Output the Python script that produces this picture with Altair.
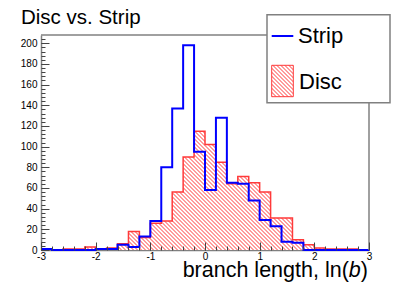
import altair as alt
import pandas as pd

# ---- data ----
bin_left = [-3.0, -2.8, -2.6, -2.4, -2.2, -2.0, -1.8, -1.6, -1.4, -1.2,
            -1.0, -0.8, -0.6, -0.4, -0.2, 0.0, 0.2, 0.4, 0.6, 0.8,
            1.0, 1.2, 1.4, 1.6, 1.8, 2.0, 2.2, 2.4, 2.6, 2.8]
x_max = 3.0
strip_counts = [1, 0, 0, 0, 0, 1, 1, 5, 3, 13,
                28, 80, 137, 198, 95, 58, 128, 65, 64, 48,
                29, 23, 8, 7, 0, 0, 0, 0, 0, 0]
disc_counts = [1, 0, 1, 1, 3, 1, 2, 6, 18, 12,
               26, 28, 56, 90, 115, 102, 85, 64, 71, 65,
               56, 31, 31, 10, 5, 2, 1, 1, 1, 0]
x_major = [-3, -2, -1, 0, 1, 2, 3]
x_minor = [-3.0, -2.8, -2.6, -2.4, -2.2, -2.0, -1.8, -1.6, -1.4, -1.2,
           -1.0, -0.8, -0.6, -0.4, -0.2, 0.0, 0.2, 0.4, 0.6, 0.8,
           1.0, 1.2, 1.4, 1.6, 1.8, 2.0, 2.2, 2.4, 2.6, 2.8, 3.0]
y_major = [0, 20, 40, 60, 80, 100, 120, 140, 160, 180, 200]
y_minor = [0, 4, 8, 12, 16, 20, 24, 28, 32, 36, 40, 44, 48, 52, 56, 60, 64, 68,
           72, 76, 80, 84, 88, 92, 96, 100, 104, 108, 112, 116, 120, 124, 128,
           132, 136, 140, 144, 148, 152, 156, 160, 164, 168, 172, 176, 180, 184,
           188, 192, 196, 200, 204]
y_top = 208

# ---- layout ----
W, H = 328, 215
FONT = "Liberation Sans"
FRAME = "#808080"
RED = "#ff3a3a"
HATCH = "#ff9c9c"

df = pd.DataFrame({
    "edge": bin_left + [x_max],
    "strip": strip_counts + [strip_counts[-1]],
    "disc": disc_counts + [disc_counts[-1]],
})
one = pd.DataFrame({"k": [0]})


def hatch(box_w, box_h, spacing=4.0, frac=0.45, color=HATCH, bg="#ffffff"):
    r = box_h / box_w
    n = max(1, round((1 + r * r) * box_w / spacing))
    stops = []
    for k in range(n):
        a = round(k / n, 6)
        b = round((k + frac) / n, 6)
        c = round((k + 1) / n, 6)
        stops += [{"offset": a, "color": color}, {"offset": b, "color": color},
                  {"offset": b, "color": bg}, {"offset": c, "color": bg}]
    return {"gradient": "linear", "x1": 0, "y1": 1, "x2": 1, "y2": round(1 - r, 5),
            "stops": stops}


xs = alt.Scale(domain=[bin_left[0], x_max], nice=False, zero=False)
ys = alt.Scale(domain=[0, y_top], nice=False, zero=True)

ax_bottom = alt.Axis(values=x_major, labelExpr="datum.value + ''", ticks=False,
                     tickSize=0, labelFlush=False, domainColor=FRAME, domainWidth=1.5,
                     grid=False, labelFont=FONT, labelFontSize=10, labelColor="#000",
                     labelPadding=1, title=None)
ax_left = alt.Axis(values=y_major, ticks=False, tickSize=0, labelFlush=False,
                   domainColor=FRAME, domainWidth=1.5, grid=False, labelFont=FONT,
                   labelFontSize=10, labelColor="#000", labelPadding=4, title=None)
ax_top_major = alt.Axis(orient="top", offset=-H, values=x_major, tickSize=8,
                        tickColor="#444", tickWidth=1, labels=False, domain=False,
                        grid=False, title=None, zindex=2)
ax_right_major = alt.Axis(orient="right", offset=-W, values=y_major, tickSize=8,
                          tickColor="#444", tickWidth=1, labels=False, domain=False,
                          grid=False, title=None, zindex=2)
ax_top_minor = alt.Axis(orient="top", offset=-H, values=x_minor, tickSize=4,
                        tickColor="#444", tickWidth=1, labels=False, domain=False,
                        grid=False, title=None, zindex=2)
ax_right_minor = alt.Axis(orient="right", offset=-W, values=y_minor, tickSize=4,
                          tickColor="#444", tickWidth=1, labels=False, domain=False,
                          grid=False, title=None, zindex=2)

area_h = max(disc_counts) / y_top * H
disc_fill = alt.Chart(df).mark_area(interpolate="step-after", fill=hatch(W, area_h),
                                    opacity=1).encode(
    x=alt.X("edge:Q", scale=xs, axis=ax_bottom),
    y=alt.Y("disc:Q", scale=ys, axis=ax_left),
)
disc_line = alt.Chart(df).mark_line(interpolate="step-after", color=RED,
                                    strokeWidth=1.5).encode(
    x=alt.X("edge:Q", scale=xs, axis=ax_top_major),
    y=alt.Y("disc:Q", scale=ys, axis=ax_right_major),
)
strip_line = alt.Chart(df).mark_line(interpolate="step-after", color="#0000ff",
                                     strokeWidth=2).encode(
    x=alt.X("edge:Q", scale=xs, axis=ax_top_minor),
    y=alt.Y("strip:Q", scale=ys, axis=ax_right_minor),
)

# frame (top and right)
frame_top = alt.Chart(one).mark_rule(color=FRAME, strokeWidth=1.5).encode(
    x=alt.value(0), x2=alt.value(W), y=alt.value(0))
frame_right = alt.Chart(one).mark_rule(color=FRAME, strokeWidth=1.5).encode(
    x=alt.value(W), y=alt.value(0), y2=alt.value(H))

# legend
LX0, LX1, LY0, LY1 = 226, 349, -20.3, 67.7
leg_box = alt.Chart(one).mark_rect(fill="#ffffff", stroke=FRAME, strokeWidth=1.5).encode(
    x=alt.value(LX0), x2=alt.value(LX1), y=alt.value(LY0), y2=alt.value(LY1))
leg_strip = alt.Chart(one).mark_rule(color="#0000ff", strokeWidth=2).encode(
    x=alt.value(230.7), x2=alt.value(252.3), y=alt.value(1))
leg_disc = alt.Chart(one).mark_rect(fill=hatch(21.6, 31.4), stroke=RED,
                                    strokeWidth=1).encode(
    x=alt.value(230.7), x2=alt.value(252.3), y=alt.value(30.3), y2=alt.value(61.7))
leg_t1 = alt.Chart(one).mark_text(text="Strip", align="left", baseline="alphabetic",
                                  font=FONT, fontSize=22, color="#000").encode(
    x=alt.value(257), y=alt.value(7.7))
leg_t2 = alt.Chart(one).mark_text(text="Disc", align="left", baseline="alphabetic",
                                  font=FONT, fontSize=22, color="#000").encode(
    x=alt.value(258), y=alt.value(54.3))

# titles
title = alt.Chart(one).mark_text(text="Disc vs. Strip", align="left",
                                 baseline="alphabetic", font=FONT, fontSize=20.5,
                                 color="#000").encode(x=alt.value(-20), y=alt.value(-10.7))
xt1 = alt.Chart(one).mark_text(text="branch length, ln(", align="right",
                               baseline="alphabetic", font=FONT, fontSize=21.5,
                               color="#000").encode(x=alt.value(307.8), y=alt.value(242.2))
xt2 = alt.Chart(one).mark_text(text="b", align="right", baseline="alphabetic",
                               font=FONT, fontSize=21.5, fontStyle="italic",
                               color="#000").encode(x=alt.value(319.8), y=alt.value(242.2))
xt3 = alt.Chart(one).mark_text(text=")", align="right", baseline="alphabetic",
                               font=FONT, fontSize=21.5, color="#000").encode(
    x=alt.value(327), y=alt.value(242.2))

chart = alt.layer(
    disc_fill, disc_line, strip_line, frame_top, frame_right,
    leg_box, leg_strip, leg_disc, leg_t1, leg_t2, title, xt1, xt2, xt3,
).resolve_axis(x="independent", y="independent").properties(
    width=W, height=H,
    autosize=alt.AutoSizeParams(type="none"),
    padding={"left": 33, "top": 27, "right": 34, "bottom": 37},
    background="#ffffff",
).configure_view(strokeWidth=0)

chart.save("out.html", embed_options={"renderer": "svg", "actions": False})
